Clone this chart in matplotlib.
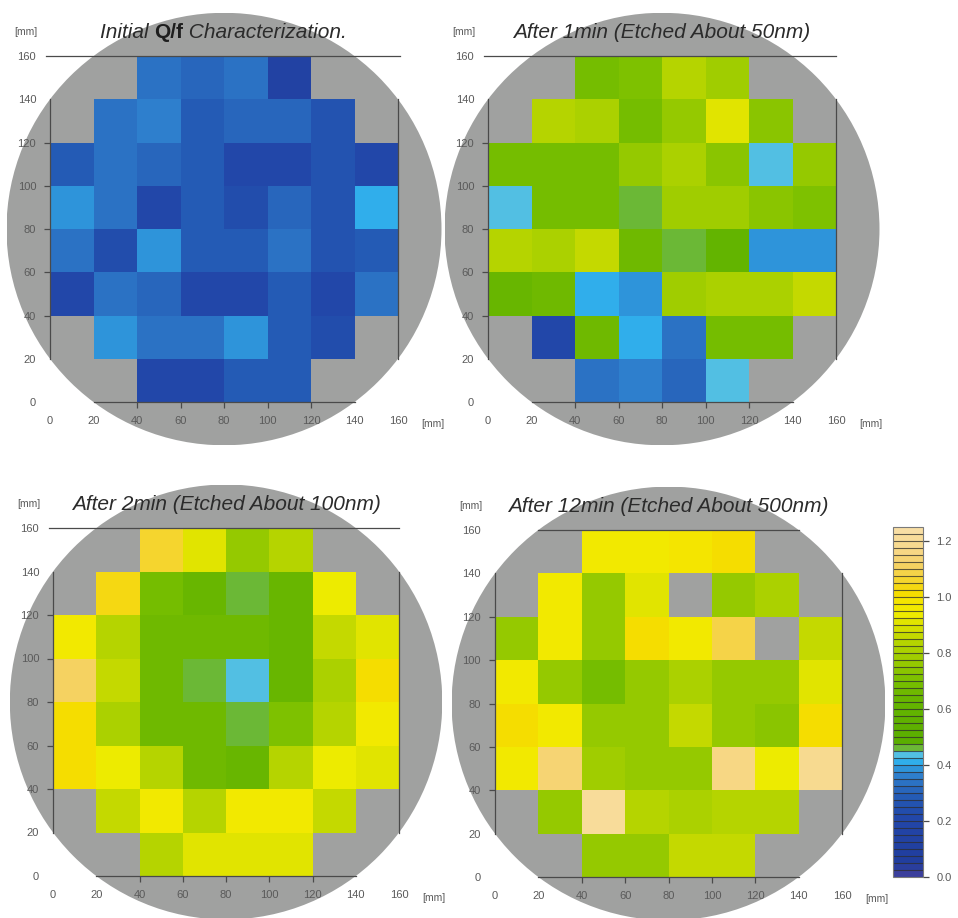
import numpy as np
import matplotlib
matplotlib.use('Agg')
import matplotlib.pyplot as plt
from matplotlib.colors import LinearSegmentedColormap, BoundaryNorm
from matplotlib.patches import Circle

plt.rcParams['font.family'] = ['Liberation Sans', 'DejaVu Sans']

### WAFER MAP DATA  (Q/f per 20 mm site, rows listed top -> bottom, nan = no site)
nan = np.nan
edges = np.arange(0, 161, 20)    # site grid [mm]
tick_all = [0, 20, 40, 60, 80, 100, 120, 140, 160]
tick_marked = [40, 60, 80, 100, 120]

qf_initial = [
    [nan, nan, 0.34, 0.31, 0.34, 0.15, nan, nan],
    [nan, 0.34, 0.37, 0.29, 0.31, 0.31, 0.26, nan],
    [0.30, 0.33, 0.32, 0.29, 0.22, 0.22, 0.25, 0.20],
    [0.39, 0.34, 0.20, 0.29, 0.24, 0.32, 0.25, 0.42],
    [0.34, 0.24, 0.38, 0.29, 0.30, 0.35, 0.25, 0.30],
    [0.20, 0.34, 0.32, 0.20, 0.22, 0.28, 0.20, 0.34],
    [nan, 0.38, 0.35, 0.35, 0.39, 0.30, 0.23, nan],
    [nan, nan, 0.20, 0.20, 0.28, 0.28, nan, nan],
]
qf_1min = [
    [nan, nan, 0.70, 0.72, 0.84, 0.78, nan, nan],
    [nan, 0.85, 0.82, 0.70, 0.76, 0.91, 0.74, nan],
    [0.70, 0.68, 0.68, 0.75, 0.80, 0.74, 0.44, 0.75],
    [0.44, 0.68, 0.69, 0.47, 0.78, 0.78, 0.74, 0.71],
    [0.84, 0.82, 0.87, 0.65, 0.47, 0.62, 0.39, 0.39],
    [0.64, 0.66, 0.42, 0.39, 0.78, 0.82, 0.82, 0.87],
    [nan, 0.20, 0.65, 0.42, 0.34, 0.68, 0.68, nan],
    [nan, nan, 0.34, 0.37, 0.31, 0.43, nan, nan],
]
qf_2min = [
    [nan, nan, 1.06, 0.90, 0.75, 0.84, nan, nan],
    [nan, 1.03, 0.68, 0.64, 0.47, 0.64, 0.95, nan],
    [0.96, 0.83, 0.65, 0.65, 0.66, 0.64, 0.87, 0.91],
    [1.10, 0.86, 0.65, 0.47, 0.44, 0.64, 0.82, 1.01],
    [1.01, 0.80, 0.67, 0.65, 0.47, 0.72, 0.84, 0.96],
    [1.01, 0.95, 0.85, 0.65, 0.64, 0.84, 0.95, 0.91],
    [nan, 0.87, 0.96, 0.85, 0.96, 0.96, 0.87, nan],
    [nan, nan, 0.85, 0.92, 0.92, 0.92, nan, nan],
]
qf_12min = [
    [nan, nan, 0.96, 0.96, 0.99, 1.00, nan, nan],
    [nan, 0.96, 0.76, 0.91, nan, 0.75, 0.82, nan],
    [0.76, 0.96, 0.76, 1.02, 0.97, 1.08, nan, 0.87],
    [0.96, 0.77, 0.70, 0.76, 0.80, 0.77, 0.77, 0.91],
    [1.02, 0.96, 0.76, 0.76, 0.86, 0.76, 0.73, 1.02],
    [0.96, 1.15, 0.78, 0.76, 0.76, 1.17, 0.95, 1.20],
    [nan, 0.76, 1.22, 0.84, 0.80, 0.84, 0.84, nan],
    [nan, nan, 0.76, 0.77, 0.87, 0.87, nan, nan],
]

### COLOUR SCALE
vmin, vmax, nlev = 0.0, 1.25, 50
anchors = [
    (0.00, '#3b3f9c'), (0.04, '#213d9d'), (0.20, '#2246a8'), (0.27, '#2356b2'),
    (0.32, '#2a6cc0'), (0.36, '#2e80ce'), (0.39, '#2e9ade'), (0.41, '#30b0ec'),
    (0.4375, '#58c2e2'), (0.46, '#6cb830'), (0.48, '#5aae00'), (0.62, '#64b400'),
    (0.70, '#78be00'), (0.78, '#9ccc00'), (0.84, '#b4d400'), (0.90, '#d8e000'),
    (0.95, '#f0ec00'), (0.99, '#f4e600'), (1.03, '#f5da00'), (1.08, '#f5d438'),
    (1.13, '#f5d268'), (1.18, '#f7d888'), (1.25, '#f8dea4'),
]
cmap = LinearSegmentedColormap.from_list(
    'qf', [((v - vmin) / (vmax - vmin), c) for v, c in anchors], N=nlev)
norm = BoundaryNorm(np.linspace(vmin, vmax, nlev + 1), nlev)

### PANELS: data, title, axes box in pixels (left, top, right, bottom), top spine extent
W, H = 958.0, 918.0
panels = [
    (qf_initial, None, (6.5, 12.8, 441.5, 445.3), (-2, 161)),
    (qf_1min, 'After 1min (Etched About 50nm)', (444.5, 12.8, 879.5, 445.3), (-2, 160)),
    (qf_2min, 'After 2min (Etched About 100nm)', (9.8, 484.5, 442.3, 919.5), (-2, 160)),
    (qf_12min, 'After 12min (Etched About 500nm)', (451.6, 486.6, 885.4, 920.4), (20, 140)),
]

fig = plt.figure(figsize=(W / 100, H / 100), dpi=100)
label_col = '#5a5a5a'
spine_col = '#4a4a4a'
title_size = 15

for data, title, (x0, y0, x1, y1), top_span in panels:
    ax = fig.add_axes([x0 / W, 1 - y1 / H, (x1 - x0) / W, (y1 - y0) / H])
    ax.set_xlim(-20, 180)
    ax.set_ylim(-20, 180)
    ax.patch.set_visible(False)

    # wafer outline
    ax.add_patch(Circle((80, 80), 100, facecolor='#a0a1a0', edgecolor='none', zorder=0.5))

    grid = np.ma.masked_invalid(np.flipud(np.array(data)))
    mesh = ax.pcolormesh(edges, edges, grid, cmap=cmap, norm=norm, zorder=1)

    # spines sit on the site grid, not on the axes box
    ax.spines['left'].set_position(('data', 0))
    ax.spines['left'].set_bounds(20, 140)
    ax.spines['right'].set_position(('data', 160))
    ax.spines['right'].set_bounds(20, 140)
    ax.spines['bottom'].set_position(('data', 0))
    ax.spines['bottom'].set_bounds(20, 140)
    ax.spines['top'].set_position(('data', 160))
    ax.spines['top'].set_bounds(*top_span)
    for s in ax.spines.values():
        s.set_color(spine_col)
        s.set_linewidth(0.9)

    ax.set_xticks(tick_all)
    ax.set_yticks(tick_all)
    ax.tick_params(length=4.5, width=0.9, color=spine_col, pad=5.5,
                   labelsize=8, labelcolor=label_col, right=False, top=False)
    # tick marks only along the spine span
    for axis in (ax.xaxis, ax.yaxis):
        for tk, loc in zip(axis.get_major_ticks(), tick_all):
            if loc not in tick_marked:
                tk.tick1line.set_visible(False)

    ax.text(-11, 171, '[mm]', ha='center', va='center', fontsize=7.5, color=label_col)
    ax.text(176, -10, '[mm]', ha='center', va='center', fontsize=7.5, color=label_col)

    if title is None:
        t1 = ax.text(23, 171, 'Initial ', ha='left', va='center',
                     fontsize=title_size, style='italic', color='#2b2b2b')
        t2 = ax.annotate('Q/f', xy=(1, 0), xycoords=t1, va='bottom',
                         fontsize=title_size, weight='bold', color='#1e1e1e')
        ax.annotate(' Characterization.', xy=(1, 0), xycoords=t2, va='bottom',
                    fontsize=title_size, style='italic', color='#2b2b2b')
    else:
        ax.text(80, 171, title, ha='center', va='center',
                fontsize=title_size, style='italic', color='#2b2b2b')

### COLOUR BAR
cax = fig.add_axes([893 / W, 1 - 877 / H, 30 / W, 350 / H])
cb = fig.colorbar(mesh, cax=cax, drawedges=True)
cb.dividers.set_color('#2e2e2e')
cb.dividers.set_linewidth(0.8)
cb.dividers.set_alpha(0.75)
cb.outline.set_edgecolor('#7a7a7a')
cb.outline.set_linewidth(0.8)
cb.set_ticks([0.0, 0.2, 0.4, 0.6, 0.8, 1.0, 1.2])
cb.ax.minorticks_off()
cb.ax.tick_params(length=4.5, width=0.9, color=spine_col, pad=5,
                  labelsize=8, labelcolor=label_col)

fig.savefig('out.png', dpi=100)
